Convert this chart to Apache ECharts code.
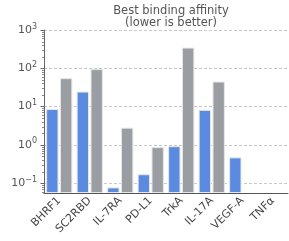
<!DOCTYPE html>
<html><head><meta charset="utf-8">
<script src="https://cdn.jsdelivr.net/npm/echarts@6/dist/echarts.min.js"></script>
<style>html,body{margin:0;padding:0;background:#fff}#c{width:289px;height:241px}</style>
</head><body><div id="c"></div>
<script>
const categories = ['BHRF1','SC2RBD','IL-7RA','PD-L1','TrkA','IL-17A','VEGF-A','TNFα'];
const blueValues = [8.6, 24.6, 0.077, 0.17, 0.92, 8.2, 0.47, null];
const grayValues = [55, 95, 2.8, 0.87, 347, 45, null, null];
const tickLabels = {'0.1':'{b|10}{s|−1}','1':'{b|10}{s|0}','10':'{b|10}{s|1}','100':'{b|10}{s|2}','1000':'{b|10}{s|3}'};
const minorTickValues = [0.06,0.07,0.08,0.09, 0.2,0.3,0.4,0.5,0.6,0.7,0.8,0.9,
  2,3,4,5,6,7,8,9, 20,30,40,50,60,70,80,90, 200,300,400,500,600,700,800,900];

const chart = echarts.init(document.getElementById('c'), null, {renderer:'canvas'});
chart.setOption({
  animation:false,
  title:{text:'Best binding affinity\n(lower is better)', left:166, top:0, textAlign:'center',
    textStyle:{fontFamily:'DejaVu Sans', fontSize:11.5, fontWeight:'normal', color:'#555', lineHeight:12}},
  grid:{left:44, right:1, top:30, bottom:48, containLabel:false, outerBoundsMode:'none'},
  xAxis:{type:'category', data:categories,
    axisLine:{show:true, lineStyle:{color:'#555', width:1}},
    axisTick:{show:false},
    axisLabel:{rotate:45, fontFamily:'DejaVu Sans', fontSize:11, color:'#444', margin:6, interval:0}},
  yAxis:{type:'log', logBase:10, min:0.055, max:1000, startValue:0.055,
    name:'{k|K}{d|D} (nM)', nameLocation:'middle', nameGap:26, nameRotate:90,
    nameTextStyle:{fontFamily:'DejaVu Sans', fontSize:11, color:'#555',
      rich:{k:{fontFamily:'DejaVu Sans', fontStyle:'italic', fontSize:11, color:'#555'},
            d:{fontFamily:'DejaVu Sans', fontStyle:'italic', fontSize:8, color:'#555', padding:[6,0,0,0]}}},
    axisLine:{show:true, lineStyle:{color:'#666', width:1}},
    axisTick:{show:true, length:3.5, lineStyle:{color:'#666'}},
    minorTick:{show:false},
    splitLine:{show:true, lineStyle:{color:'#bbb', type:[3,2], width:0.8}},
    axisLabel:{fontFamily:'DejaVu Sans', fontSize:11, color:'#555', margin:7,
      showMinLabel:false,
      rich:{b:{fontFamily:'DejaVu Sans', fontSize:11, color:'#555'},
            s:{fontFamily:'DejaVu Sans', fontSize:8, color:'#555', padding:[0,0,7,0]}},
      formatter:function(v){ const k=String(+v.toPrecision(6)); return tickLabels[k]||''; }}},
  series:[
    {type:'bar', data:blueValues, barGap:'12%', barCategoryGap:'14%',
      itemStyle:{color:'#5b8be0', borderColor:'#e6e6e6', borderWidth:1}},
    {type:'bar', data:grayValues,
      itemStyle:{color:'#9a9ea2', borderColor:'#e6e6e6', borderWidth:1}},
    {type:'custom', data:minorTickValues.map(v=>[0,v]), clip:false, silent:true, z:1,
      encode:{x:0, y:1},
      renderItem:function(params, api){
        const y = Math.round(api.coord([0, api.value(1)])[1]) + 0.5;
        const x = params.coordSys.x;
        return {type:'line', shape:{x1:x-2, y1:y, x2:x, y2:y}, style:{stroke:'#888', lineWidth:1}};
      }}
  ]
});
</script></body></html>
